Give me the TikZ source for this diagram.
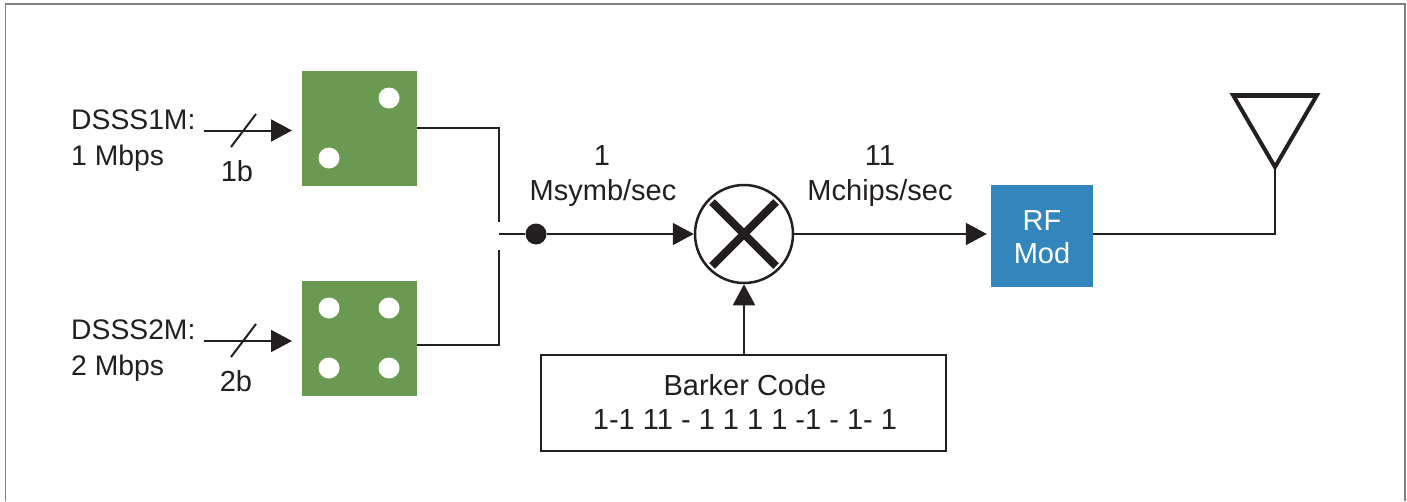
\documentclass[tikz,border=0pt]{standalone}
\usepackage{fontspec}
\setmainfont{Liberation Sans}
\usetikzlibrary{arrows.meta}
\definecolor{ink}{HTML}{231F20}
\definecolor{greenbox}{HTML}{6A9A51}
\definecolor{bluebox}{HTML}{3286BC}
\definecolor{framegray}{HTML}{808080}
\tikzset{
  wire/.style={draw=ink,line width=2pt},
  flow/.style={wire,-{Triangle[length=21pt,width=22pt]}},
  label/.style={font=\fontsize{29}{34}\selectfont,text=ink,inner sep=0pt,anchor=base},
  llabel/.style={label,anchor=base west,font=\fontsize{28.3}{34}\selectfont},
  greensq/.style={fill=greenbox,draw=none,minimum size=115pt,inner sep=0pt},
  pip/.style={circle,fill=white,draw=none,minimum size=21pt,inner sep=0pt},
  dotnode/.style={circle,fill=ink,draw=none,minimum size=21pt,inner sep=0pt},
}
\begin{document}
\begin{tikzpicture}[x=1pt,y=-1pt]
\useasboundingbox (0,0) rectangle (1407,501);
\draw[framegray,line width=1.5pt] (5.5,501) -- (5.5,4) -- (1405,4) -- (1405,501);

% QPSK / BPSK constellations
\node[greensq] (g1) at (359.5,128.5) {};
\node[pip] (p1a) at (389,98) {};
\node[pip] (p1b) at (329,158) {};
\node[greensq] (g2) at (359.5,338.5) {};
\node[pip] (p2a) at (329,308) {};
\node[pip] (p2b) at (389,308) {};
\node[pip] (p2c) at (329,368) {};
\node[pip] (p2d) at (389,368) {};

% inputs
\node[llabel] (t1a) at (71,129) {DSSS1M:};
\node[llabel] (t1b) at (71,165) {1 Mbps};
\node[llabel] (t2a) at (71,339) {DSSS2M:};
\node[llabel] (t2b) at (71,375) {2 Mbps};
\node[label] (b1) at (237,181) {1b};
\node[label] (b2) at (236,391) {2b};
\coordinate (i1s) at (204,130.5);
\coordinate (i1e) at (292,130.5);
\coordinate (i2s) at (204,341);
\coordinate (i2e) at (292,341);
\draw[flow] (i1s) -- (i1e);
\draw[flow] (i2s) -- (i2e);
\coordinate (s1a) at (231,147); \coordinate (s1b) at (256,114);
\coordinate (s2a) at (231,357); \coordinate (s2b) at (256,324);
\draw[wire] (s1a) -- (s1b);
\draw[wire] (s2a) -- (s2b);

% switch
\coordinate (o1) at (417,128);
\coordinate (o2) at (417,344.5);
\coordinate (j1) at (499,222);
\coordinate (j2) at (499,250);
\coordinate (j0) at (499,234);
\draw[wire] (o1) -| (j1);
\draw[wire] (o2) -| (j2);

% mixer
\node[circle,draw=ink,line width=2.5pt,fill=white,minimum size=98pt,inner sep=0pt] (mix) at (744,234) {};
\draw[ink,line width=8pt] (mix.center) ++(-32,-32) -- ++(64,64);
\draw[ink,line width=8pt] (mix.center) ++(-32,32) -- ++(64,-64);
\node[dotnode] (dot) at (536,234) {};
\draw[wire] (j0) -- (dot);
\draw[flow] (dot) -- (mix);

\node[label] (r1) at (602,165) {1};
\node[label] (r2) at (603,200) {Msymb/sec};
\node[label] (r3) at (880,165) {11};
\node[label] (r4) at (880,200) {Mchips/sec};

% RF modulator
\node[fill=bluebox,draw=none,minimum size=102pt,inner sep=0pt] (rf) at (1042,236) {};
\node[label,text=white] (rf1) at (1042,230) {RF};
\node[label,text=white] (rf2) at (1042,263) {Mod};
\draw[flow,shorten >=4pt] (mix) -- (mix -| rf.west);

% antenna
\coordinate (al) at (1233,95);
\coordinate (ar) at (1317,95);
\coordinate (ap) at (1275,167);
\draw[ink,line width=4pt,miter limit=10] (ap) -- (al) -- (ar) -- cycle;
\draw[ink,line width=5pt] (al) -- (ar);
\draw[wire] (rf.east |- mix) -| (ap);

% Barker code
\node[draw=ink,line width=1.6pt,fill=white,minimum width=405pt,minimum height=96pt,inner sep=0pt] (bk) at (743.5,403) {};
\node[label] (bk1) at (745,395) {Barker Code};
\node[label] (bk2) at (745,429) {1-1 11 - 1 1 1 1 -1 - 1- 1};
\draw[flow] (bk.north -| mix) -- (mix.south);
\end{tikzpicture}
\end{document}
